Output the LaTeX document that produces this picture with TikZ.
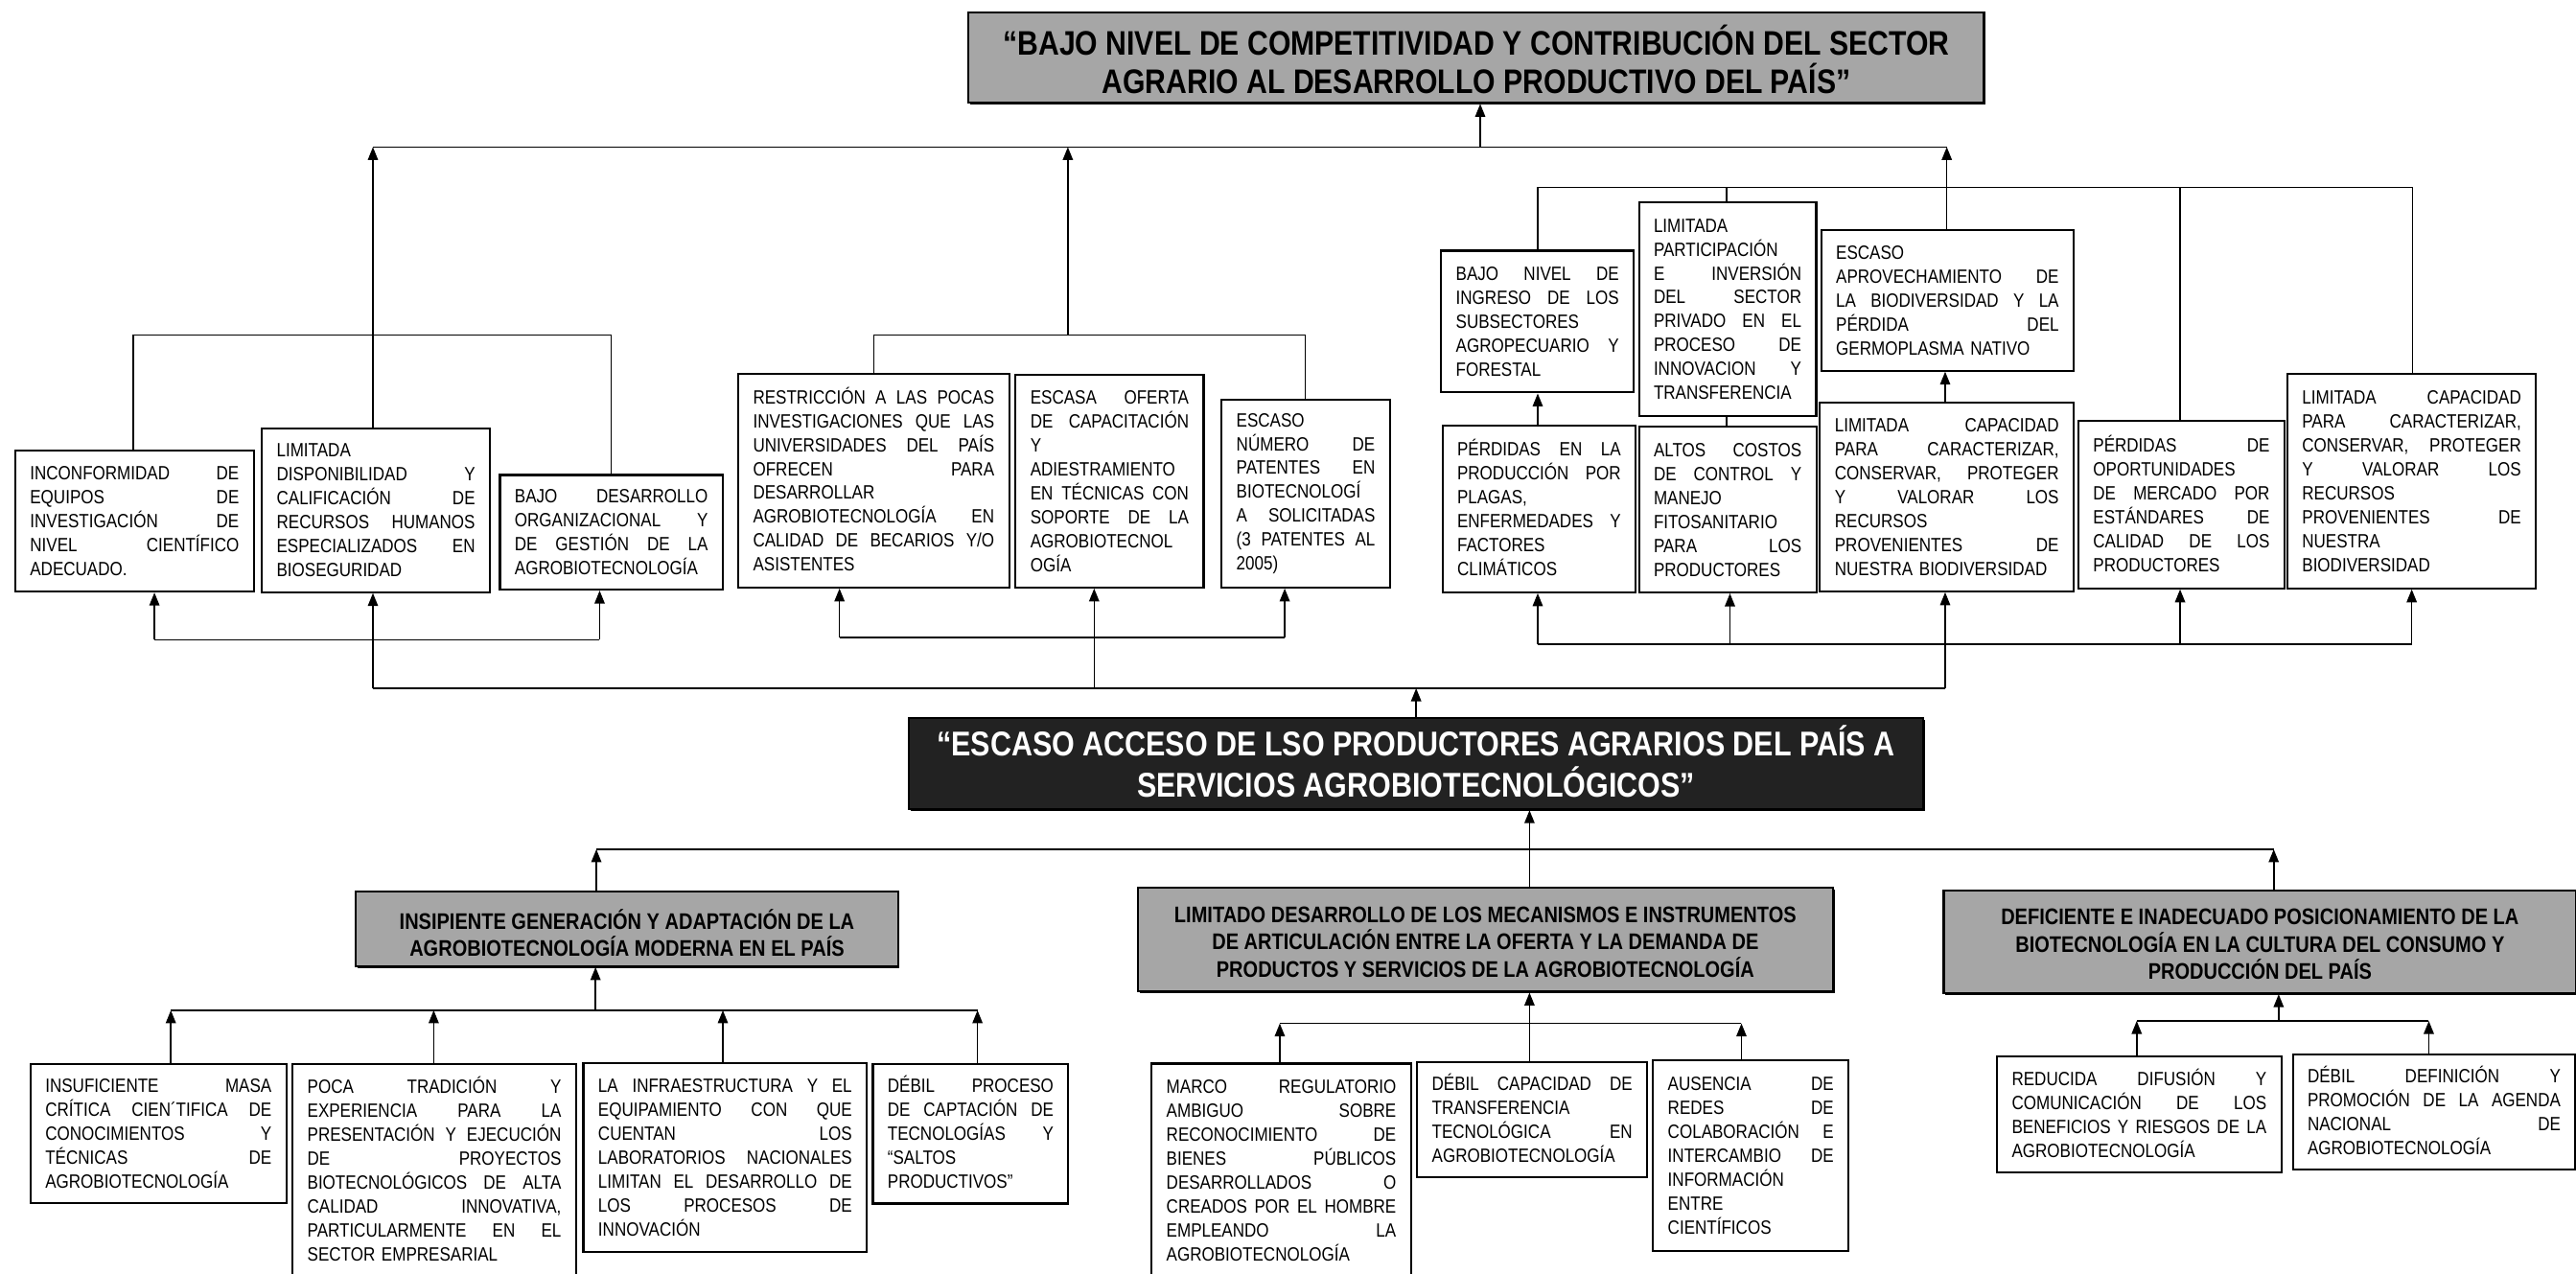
\documentclass[tikz,border=0pt]{standalone}
\usepackage{fontspec}
\setmainfont{Liberation Sans}[FakeStretch=0.85]
\usetikzlibrary{arrows.meta,shadows}

% one drawing unit
\newlength\ux
\setlength\ux{0.0171365cm}
% a justified line of fixed width: every space stretches equally
\newcommand\jline[1]{\makebox[\linewidth][s]{\spaceskip=\fontdimen2\font plus 1fil\relax #1}}

\definecolor{boxgray}{RGB}{166,166,166}
\definecolor{corefill}{RGB}{34,34,34}

\tikzset{
  ln/.style={draw=black, line width=0.45pt},
  arr/.style={ln, -{Triangle[length=1.35mm,width=1.05mm]}},
  frame/.style={draw=black, line width=0.6pt, anchor=north west, inner ysep=0pt},
  cbox/.style 2 args={frame, fill=white, text width={(#1-18)*\ux}, inner xsep={9*\ux},
    minimum width={#1*\ux}, minimum height={#2*\ux}, align=left, text height=4.08pt,
    font=\fontsize{5.7}{7.1}\selectfont},
  headbox/.style n args={3}{frame, minimum width={#1*\ux}, minimum height={#2*\ux},
    text height=#3, text depth=0pt, align=center, inner xsep=0pt,
    drop shadow={shadow xshift=0.5pt, shadow yshift=-0.5pt, fill=black, opacity=1}},
  titlebox/.style n args={3}{headbox={#1}{#2}{#3}, fill=boxgray,
    font=\bfseries\fontsize{10.1}{11.5}\selectfont},
  corebox/.style n args={3}{headbox={#1}{#2}{#3}, fill=corefill, text=white,
    font=\bfseries\fontsize{10.2}{12.3}\selectfont},
  groupbox/.style n args={3}{headbox={#1}{#2}{#3}, fill=boxgray,
    font=\bfseries\fontsize{6.7}{8.05}\selectfont},
}

\begin{document}
\begin{tikzpicture}[x=\ux, y=-\ux]
\path[fill=white, use as bounding box] (0,0) rectangle (1568,775);

% ---------- central problem and main effect ----------
\node[titlebox={618}{55}{21.5pt}] (top) at (589,7)
  {“BAJO NIVEL DE COMPETITIVIDAD Y CONTRIBUCIÓN DEL SECTOR\\AGRARIO AL DESARROLLO PRODUCTIVO DEL PAÍS”};
\node[corebox={617.5}{55.5}{20.1pt}] (core) at (552.5,436.5)
  {“ESCASO ACCESO DE LSO PRODUCTORES AGRARIOS DEL PAÍS A\\SERVICIOS AGROBIOTECNOLÓGICOS”};

% ---------- effects ----------
\node[cbox={145.2}{85.7}] (l1) at (8.7,273.8)
  {\jline{INCONFORMIDAD DE}\\\jline{EQUIPOS DE}\\\jline{INVESTIGACIÓN DE}\\\jline{NIVEL CIENTÍFICO}\\ADECUADO.};
\node[cbox={138.8}{99.8}] (l2) at (158.8,260)
  {LIMITADA\\\jline{DISPONIBILIDAD Y}\\\jline{CALIFICACIÓN DE}\\\jline{RECURSOS HUMANOS}\\\jline{ESPECIALIZADOS EN}\\BIOSEGURIDAD};
\node[cbox={135.6}{69.8}] (l3) at (303.7,288.5)
  {\jline{BAJO DESARROLLO}\\\jline{ORGANIZACIONAL Y}\\\jline{DE GESTIÓN DE LA}\\AGROBIOTECNOLOGÍA};

\node[cbox={164.8}{130}] (m1) at (448.8,227)
  {\jline{RESTRICCIÓN A LAS POCAS}\\\jline{INVESTIGACIONES QUE LAS}\\\jline{UNIVERSIDADES DEL PAÍS}\\\jline{OFRECEN PARA}\\DESARROLLAR\\\jline{AGROBIOTECNOLOGÍA EN}\\\jline{CALIDAD DE BECARIOS Y/O}\\ASISTENTES};
\node[cbox={114.4}{129.4}] (m2) at (617.6,227.6)
  {\jline{ESCASA OFERTA}\\\jline{DE CAPACITACIÓN}\\Y\\ADIESTRAMIENTO\\\jline{EN TÉCNICAS CON}\\\jline{SOPORTE DE LA}\\AGROBIOTECNOL\\OGÍA};
\node[cbox={102.4}{114.4}] (m3) at (743,242.6)
  {ESCASO\\\jline{NÚMERO DE}\\\jline{PATENTES EN}\\BIOTECNOLOGÍ\\\jline{A SOLICITADAS}\\\jline{(3 PATENTES AL}\\2005)};

\node[cbox={117.2}{86.3}] (r1) at (876.6,152)
  {\jline{BAJO NIVEL DE}\\\jline{INGRESO DE LOS}\\SUBSECTORES\\\jline{AGROPECUARIO Y}\\FORESTAL};
\node[cbox={107.9}{130}] (r2) at (997,122.5)
  {LIMITADA\\PARTICIPACIÓN\\\jline{E INVERSIÓN}\\\jline{DEL SECTOR}\\\jline{PRIVADO EN EL}\\\jline{PROCESO DE}\\\jline{INNOVACION Y}\\TRANSFERENCIA};
\node[cbox={153.6}{85.5}] (r3) at (1108,139.5)
  {ESCASO\\\jline{APROVECHAMIENTO DE}\\\jline{LA BIODIVERSIDAD Y LA}\\\jline{PÉRDIDA DEL}\\GERMOPLASMA NATIVO};
\node[cbox={117.6}{101.2}] (r4) at (877.4,258.7)
  {\jline{PÉRDIDAS EN LA}\\\jline{PRODUCCIÓN POR}\\PLAGAS,\\\jline{ENFERMEDADES Y}\\FACTORES\\CLIMÁTICOS};
\node[cbox={108}{100.7}] (r5) at (997,259.3)
  {\jline{ALTOS COSTOS}\\\jline{DE CONTROL Y}\\MANEJO\\FITOSANITARIO\\\jline{PARA LOS}\\PRODUCTORES};
\node[cbox={154.4}{115}] (r6) at (1107.2,244.3)
  {\jline{LIMITADA CAPACIDAD}\\\jline{PARA CARACTERIZAR,}\\\jline{CONSERVAR, PROTEGER}\\\jline{Y VALORAR LOS}\\RECURSOS\\\jline{PROVENIENTES DE}\\NUESTRA BIODIVERSIDAD};
\node[cbox={125.4}{101.7}] (r7) at (1264.5,255.8)
  {\jline{PÉRDIDAS DE}\\OPORTUNIDADES\\\jline{DE MERCADO POR}\\\jline{ESTÁNDARES DE}\\\jline{CALIDAD DE LOS}\\PRODUCTORES};
\node[cbox={151.3}{130.3}] (r8) at (1391.7,227.2)
  {\jline{LIMITADA CAPACIDAD}\\\jline{PARA CARACTERIZAR,}\\\jline{CONSERVAR, PROTEGER}\\\jline{Y VALORAR LOS}\\RECURSOS\\\jline{PROVENIENTES DE}\\NUESTRA\\BIODIVERSIDAD};

% ---------- causes ----------
\node[groupbox={330}{45.5}{16.55pt}] (g1) at (216,542)
  {INSIPIENTE GENERACIÓN Y ADAPTACIÓN DE LA\\AGROBIOTECNOLOGÍA MODERNA EN EL PAÍS};
\node[groupbox={423}{63}{22.1pt}] (g2) at (692,540)
  {LIMITADO DESARROLLO DE LOS MECANISMOS E INSTRUMENTOS\\DE ARTICULACIÓN ENTRE LA OFERTA Y LA DEMANDA DE\\PRODUCTOS Y SERVICIOS DE LA AGROBIOTECNOLOGÍA};
\node[groupbox={385}{62.5}{22.1pt}] (g3) at (1182.5,541.5)
  {DEFICIENTE E INADECUADO POSICIONAMIENTO DE LA\\BIOTECNOLOGÍA EN LA CULTURA DEL CONSUMO Y\\PRODUCCIÓN DEL PAÍS};

\node[cbox={155.7}{84.8}] (a1) at (18,647)
  {\jline{INSUFICIENTE MASA}\\\jline{CRÍTICA CIEN´TIFICA DE}\\\jline{CONOCIMIENTOS Y}\\\jline{TÉCNICAS DE}\\AGROBIOTECNOLOGÍA};
\node[cbox={172.5}{130}] (a2) at (177.5,647)
  {\jline{POCA TRADICIÓN Y}\\\jline{EXPERIENCIA PARA LA}\\\jline{PRESENTACIÓN Y EJECUCIÓN}\\\jline{DE PROYECTOS}\\\jline{BIOTECNOLÓGICOS DE ALTA}\\\jline{CALIDAD INNOVATIVA,}\\\jline{PARTICULARMENTE EN EL}\\SECTOR EMPRESARIAL};
\node[cbox={172.5}{115}] (a3) at (354.5,646.6)
  {\jline{LA INFRAESTRUCTURA Y EL}\\\jline{EQUIPAMIENTO CON QUE}\\\jline{CUENTAN LOS}\\\jline{LABORATORIOS NACIONALES}\\\jline{LIMITAN EL DESARROLLO DE}\\\jline{LOS PROCESOS DE}\\INNOVACIÓN};
\node[cbox={119}{85}] (a4) at (530.7,647)
  {\jline{DÉBIL PROCESO}\\\jline{DE CAPTACIÓN DE}\\\jline{TECNOLOGÍAS Y}\\“SALTOS\\PRODUCTIVOS”};

\node[cbox={157.8}{130}] (b1) at (700.4,646.8)
  {\jline{MARCO REGULATORIO}\\\jline{AMBIGUO SOBRE}\\\jline{RECONOCIMIENTO DE}\\\jline{BIENES PÚBLICOS}\\\jline{DESARROLLADOS O}\\\jline{CREADOS POR EL HOMBRE}\\\jline{EMPLEANDO LA}\\AGROBIOTECNOLOGÍA};
\node[cbox={140}{70}] (b2) at (862,646)
  {\jline{DÉBIL CAPACIDAD DE}\\TRANSFERENCIA\\\jline{TECNOLÓGICA EN}\\AGROBIOTECNOLOGÍA};
\node[cbox={119}{116}] (b3) at (1005.6,645)
  {\jline{AUSENCIA DE}\\\jline{REDES DE}\\\jline{COLABORACIÓN E}\\\jline{INTERCAMBIO DE}\\INFORMACIÓN\\ENTRE\\CIENTÍFICOS};

\node[cbox={173}{70.5}] (d1) at (1215,642.5)
  {\jline{REDUCIDA DIFUSIÓN Y}\\\jline{COMUNICACIÓN DE LOS}\\\jline{BENEFICIOS Y RIESGOS DE LA}\\AGROBIOTECNOLOGÍA};
\node[cbox={172}{70}] (d2) at (1395,641.5)
  {\jline{DÉBIL DEFINICIÓN Y}\\\jline{PROMOCIÓN DE LA AGENDA}\\\jline{NACIONAL DE}\\AGROBIOTECNOLOGÍA};

% ---------- bus points ----------
\coordinate (tbL) at (227,89.5);
\coordinate (tbM) at (650,89.5);
\coordinate (tbR) at (1185,89.5);
\coordinate (tbT) at (901,89.5);
\coordinate (ulA) at (81,204);
\coordinate (ulB) at (372,204);
\coordinate (umA) at (532,204);
\coordinate (umB) at (794.5,204);
\coordinate (umC) at (650,204);
\coordinate (urA) at (936,114);
\coordinate (urB) at (1051,114);
\coordinate (urC) at (1327,114);
\coordinate (urD) at (1468.6,114);
\coordinate (mbL) at (227,419);
\coordinate (mbM) at (666,419);
\coordinate (mbR) at (1184,419);
\coordinate (mbC) at (862,419);
\coordinate (llA) at (94,389.5);
\coordinate (llB) at (365,389.5);
\coordinate (mlA) at (511,388);
\coordinate (mlB) at (782,388);
\coordinate (rlA) at (936,392);
\coordinate (rlB) at (1053,392);
\coordinate (rlC) at (1327,392);
\coordinate (rlD) at (1468,392);
\coordinate (cbL) at (363,517);
\coordinate (cbR) at (1384,517);
\coordinate (cbC) at (931,517);
\coordinate (s1A) at (104,615);
\coordinate (s1B) at (264,615);
\coordinate (s1C) at (440,615);
\coordinate (s1D) at (595,615);
\coordinate (s1M) at (362.5,615);
\coordinate (s2A) at (779,623);
\coordinate (s2B) at (1060,623);
\coordinate (s3A) at (1300.6,621.5);
\coordinate (s3B) at (1478.4,621.5);
\coordinate (s3M) at (1387,621.5);

% ---------- effects tree ----------
\draw[ln] (tbL) -- (tbR);
\draw[arr] (tbT) -- (tbT |- top.south);
\draw[arr] (l2.north -| tbL) -- (tbL);
\draw[arr] (umC) -- (tbM);
\draw[arr] (r3.north -| tbR) -- (tbR);

\draw[ln] (l1.north -| ulA) |- (ulB) -- (l3.north -| ulB);
\draw[ln] (m1.north -| umA) |- (umB) -- (m3.north -| umB);
\draw[ln] (r1.north -| urA) |- (urD) -- (r8.north -| urD);
\draw[ln] (urB) -- (r2.north -| urB);
\draw[ln] (urC) -- (r7.north -| urC);

\draw[arr] (r4.north -| urA) -- (r1.south -| urA);
\draw[ln] (r5.north -| urB) -- (r2.south -| urB);
\draw[arr] (r6.north -| mbR) -- (r3.south -| mbR);

\draw[ln] (mbL) -- (mbR);
\draw[arr] (core.north -| mbC) -- (mbC);
\draw[arr] (mbL) -- (l2.south -| mbL);
\draw[arr] (mbM) -- (m2.south -| mbM);
\draw[arr] (mbR) -- (r6.south -| mbR);

\draw[ln] (llA) -- (llB);
\draw[arr] (llA) -- (l1.south -| llA);
\draw[arr] (llB) -- (l3.south -| llB);
\draw[ln] (mlA) -- (mlB);
\draw[arr] (mlA) -- (m1.south -| mlA);
\draw[arr] (mlB) -- (m3.south -| mlB);
\draw[ln] (rlA) -- (rlD);
\draw[arr] (rlA) -- (r4.south -| rlA);
\draw[arr] (rlB) -- (r5.south -| rlB);
\draw[arr] (rlC) -- (r7.south -| rlC);
\draw[arr] (rlD) -- (r8.south -| rlD);

% ---------- causes tree ----------
\draw[ln] (cbL) -- (cbR);
\draw[arr] (g1.north -| cbL) -- (cbL);
\draw[arr] (g3.north -| cbR) -- (cbR);
\draw[arr] (g2.north -| cbC) -- (core.south -| cbC);

\draw[ln] (s1A) -- (s1D);
\draw[arr] (a1.north -| s1A) -- (s1A);
\draw[arr] (a2.north -| s1B) -- (s1B);
\draw[arr] (a3.north -| s1C) -- (s1C);
\draw[arr] (a4.north -| s1D) -- (s1D);
\draw[arr] (s1M) -- (g1.south -| s1M);

\draw[ln] (s2A) -- (s2B);
\draw[arr] (b1.north -| s2A) -- (s2A);
\draw[arr] (b3.north -| s2B) -- (s2B);
\draw[arr] (b2.north -| cbC) -- (g2.south -| cbC);

\draw[ln] (s3A) -- (s3B);
\draw[arr] (d1.north -| s3A) -- (s3A);
\draw[arr] (d2.north -| s3B) -- (s3B);
\draw[arr] (s3M) -- (g3.south -| s3M);
\end{tikzpicture}
\end{document}
